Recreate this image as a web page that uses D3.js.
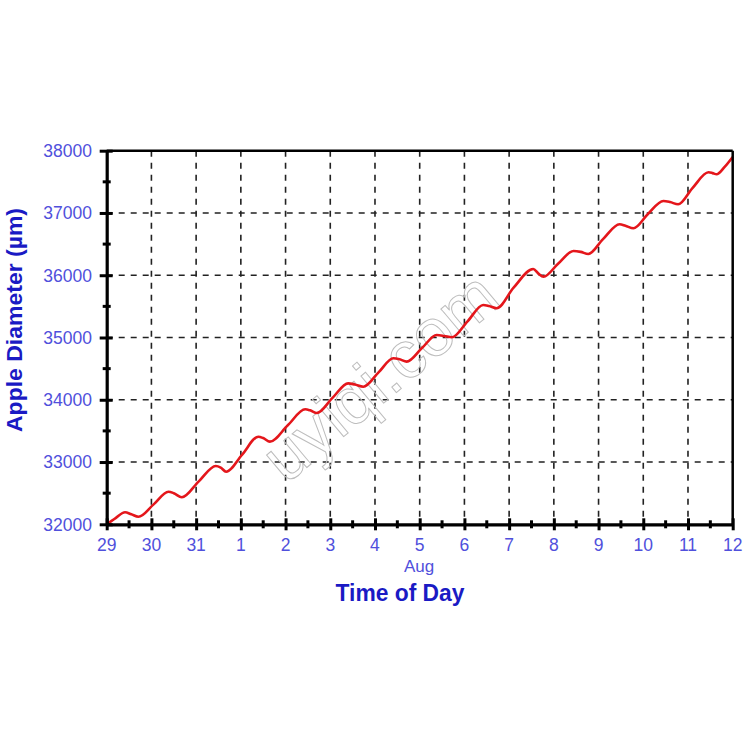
<!DOCTYPE html>
<html><head><meta charset="utf-8">
<script src="https://cdn.jsdelivr.net/npm/d3@7"></script>
<style>
html,body{margin:0;padding:0;background:#fff;}
svg{display:block;}
</style>
</head><body>
<svg id="chart" width="750" height="750"></svg>
<script>
// Day offsets since 29 Jul (fractional days) and apple diameter (µm)
const dayOffsets = [0, 0.2, 0.41, 0.55, 0.71, 1.05, 1.38, 1.5, 1.68, 2.06, 2.44, 2.55, 2.67, 3.03, 3.39, 3.5, 3.65, 4.05, 4.44, 4.55, 4.70, 5.05, 5.40, 5.55, 5.74, 6.08, 6.41, 6.55, 6.71, 7.05, 7.38, 7.55, 7.72, 8.07, 8.42, 8.55, 8.72, 9.1, 9.54, 9.65, 9.77, 10.1, 10.44, 10.6, 10.77, 11.1, 11.47, 11.6, 11.78, 12.1, 12.45, 12.6, 12.78, 13.1, 13.46, 13.55, 13.64, 13.82, 14.0];
const diameters = [32000, 32100, 32193, 32160, 32122, 32320, 32523, 32500, 32434, 32690, 32936, 32910, 32845, 33120, 33407, 33385, 33327, 33590, 33847, 33830, 33787, 34030, 34264, 34245, 34210, 34440, 34666, 34650, 34612, 34830, 35040, 35025, 35003, 35260, 35522, 35505, 35469, 35800, 36100, 36030, 35977, 36190, 36389, 36375, 36341, 36580, 36818, 36795, 36754, 36980, 37192, 37175, 37139, 37400, 37653, 37640, 37621, 37740, 37900];
const xTickLabels = ["29","30","31","1","2","3","4","5","6","7","8","9","10","11","12"];
const yTickValues = [32000, 33000, 34000, 35000, 36000, 37000, 38000];
const monthLabel = "Aug";
const xTitle = "Time of Day";
const yTitle = "Apple Diameter (µm)";
const watermark = "uyiqi.com";

const svg = d3.select("#chart");
const L = 106.7, R = 732.7, T = 150.7, B = 524.3;
const x = d3.scaleLinear().domain([0, 14]).range([L, R]);
const y = d3.scaleLinear().domain([32000, 38000]).range([B, T]);

const tickColor = "#5050dc";
const titleColor = "#1a1ac4";
const font = "Arial, 'Liberation Sans', sans-serif";

// grid
const grid = svg.append("g").attr("stroke", "#222").attr("stroke-width", 1.6).attr("stroke-dasharray", "6,6");
grid.selectAll("line.v").data(d3.range(1, 14)).join("line")
  .attr("x1", d => x(d)).attr("x2", d => x(d)).attr("y1", T).attr("y2", B);
grid.selectAll("line.h").data(yTickValues.slice(1, -1)).join("line")
  .attr("x1", L).attr("x2", R).attr("y1", d => y(d)).attr("y2", d => y(d));

// watermark
svg.append("text")
  .attr("transform", "translate(381,378) rotate(-40)")
  .attr("text-anchor", "middle").attr("y", 21)
  .attr("font-family", font).attr("font-size", 67)
  .attr("fill", "none").attr("stroke", "#bdbdbd").attr("stroke-width", 1)
  .text(watermark);

// data line
const pts = dayOffsets.map((d, i) => [d, diameters[i]]);
svg.append("path").datum(pts)
  .attr("fill", "none").attr("stroke", "#e4161b").attr("stroke-width", 2.6)
  .attr("stroke-linejoin", "round")
  .attr("d", d3.line().x(d => x(d[0])).y(d => y(d[1])).curve(d3.curveMonotoneX));

// frame (top and right)
svg.append("line").attr("x1", L).attr("x2", R).attr("y1", T).attr("y2", T).attr("stroke", "#000").attr("stroke-width", 2.5);
svg.append("line").attr("x1", R).attr("x2", R).attr("y1", T).attr("y2", B).attr("stroke", "#000").attr("stroke-width", 2.5);

// x axis
const xAxisG = svg.append("g").attr("transform", `translate(0,${B})`)
  .call(d3.axisBottom(x).tickValues(d3.range(0, 15)).tickSize(0).tickPadding(0).tickFormat(""));
xAxisG.select(".domain").attr("stroke", "#000").attr("stroke-width", 3.2);
xAxisG.selectAll(".tick line").attr("y1", -6).attr("y2", 6).attr("stroke", "#000").attr("stroke-width", 3);
xAxisG.selectAll(".minor").data(d3.range(0.5, 14, 1)).join("line").attr("class", "minor")
  .attr("x1", d => x(d)).attr("x2", d => x(d)).attr("y1", -4).attr("y2", 4)
  .attr("stroke", "#000").attr("stroke-width", 3);
svg.append("g").selectAll("text").data(xTickLabels).join("text")
  .attr("x", (d, i) => x(i)).attr("y", 551)
  .attr("text-anchor", "middle").attr("font-family", font).attr("font-size", 17.5)
  .attr("fill", tickColor).text(d => d);

// y axis
const yAxisG = svg.append("g").attr("transform", `translate(${L},0)`)
  .call(d3.axisLeft(y).tickValues(yTickValues).tickSize(0).tickPadding(0).tickFormat(""));
yAxisG.select(".domain").attr("stroke", "#000").attr("stroke-width", 3.2);
yAxisG.selectAll(".tick line").attr("x1", -7).attr("x2", 6).attr("stroke", "#000").attr("stroke-width", 3);
yAxisG.selectAll(".minor").data(d3.range(32500, 38000, 1000)).join("line").attr("class", "minor")
  .attr("y1", d => y(d)).attr("y2", d => y(d)).attr("x1", -4).attr("x2", 4)
  .attr("stroke", "#000").attr("stroke-width", 3);
svg.append("g").selectAll("text").data(yTickValues).join("text")
  .attr("x", 92).attr("y", d => y(d)).attr("dy", "0.36em")
  .attr("text-anchor", "end").attr("font-family", font).attr("font-size", 17.5)
  .attr("fill", tickColor).text(d => d);

// month label and titles
svg.append("text").attr("x", 419).attr("y", 572).attr("text-anchor", "middle")
  .attr("font-family", font).attr("font-size", 17).attr("fill", tickColor).text(monthLabel);
svg.append("text").attr("x", 400).attr("y", 601).attr("text-anchor", "middle")
  .attr("font-family", font).attr("font-size", 23).attr("font-weight", "bold")
  .attr("fill", titleColor).attr("textLength", 129).attr("lengthAdjust", "spacingAndGlyphs").text(xTitle);
svg.append("text").attr("transform", "translate(22,320) rotate(-90)").attr("text-anchor", "middle")
  .attr("font-family", font).attr("font-size", 22).attr("font-weight", "bold")
  .attr("fill", titleColor).attr("textLength", 224).attr("lengthAdjust", "spacingAndGlyphs").text(yTitle);
</script>
</body></html>
